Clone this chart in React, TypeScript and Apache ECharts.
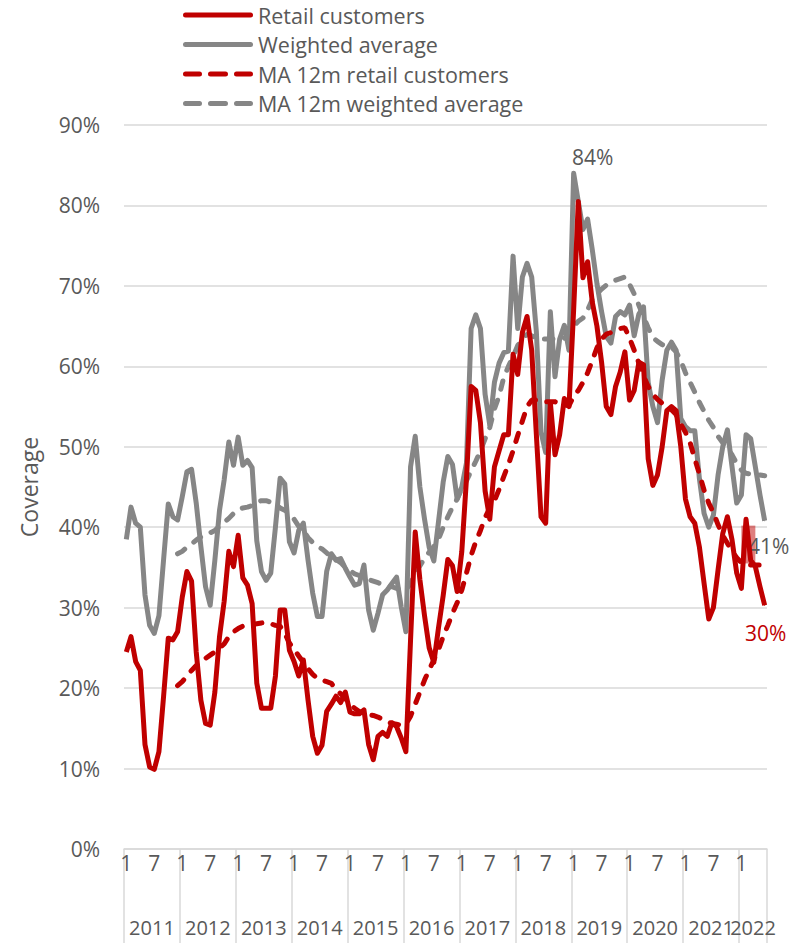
import React, { useEffect, useRef } from "react";
import * as echarts from "echarts";

// ---------- data ----------
const years = ["2011", "2012", "2013", "2014", "2015", "2016", "2017", "2018", "2019", "2020", "2021", "2022"];
const monthsPerYear = [12, 12, 12, 12, 12, 12, 12, 12, 12, 12, 12, 6];
const monthTickLabels = ["1", "7"]; // months shown on the axis

const seriesNames = [
  "Retail customers",
  "Weighted average",
  "MA 12m retail customers",
  "MA 12m weighted average",
];

// Coverage (%), monthly, Jan 2011 - Jun 2022
const retail = [
  24.5, 26.4, 23.3, 22.2, 13.0, 10.2, 9.9, 12.1, 19.0, 26.2, 26.0, 27.0,
  31.3, 34.5, 33.3, 24.5, 18.5, 15.6, 15.4, 19.5, 26.4, 30.8, 37.0, 35.1,
  39.0, 33.7, 32.8, 30.5, 20.6, 17.5, 17.5, 17.5, 21.5, 29.7, 29.7, 24.7,
  23.3, 21.5, 23.5, 18.5, 14.0, 11.9, 12.9, 17.1, 18.0, 19.0, 18.2, 19.5,
  17.0, 16.8, 16.8, 17.3, 13.0, 11.1, 14.0, 14.5, 14.0, 15.7, 15.2, 13.8,
  12.1, 26.0, 39.4, 33.5, 29.0, 25.0, 23.2, 27.5, 31.5, 36.0, 35.2, 32.0,
  37.0, 46.0, 57.5, 57.0, 53.0, 44.5, 41.0, 47.5, 49.5, 51.5, 51.5, 61.5,
  59.0, 64.2, 66.2, 62.0, 51.5, 41.3, 40.5, 55.5, 49.0, 51.5, 56.0, 55.0,
  67.0, 80.5, 71.0, 73.0, 68.0, 65.0, 60.5, 55.0, 54.0, 57.5, 59.3, 61.8,
  55.8, 57.0, 60.5, 60.2, 48.5, 45.2, 46.5, 50.0, 54.5, 55.0, 54.5, 50.0,
  43.5, 41.3, 40.5, 37.5, 33.0, 28.6, 30.0, 34.7, 39.2, 41.3, 38.4, 34.3,
  32.4, 41.0, 35.9, 35.1, 32.6, 30.3,
];

const weighted = [
  38.5, 42.5, 40.5, 40.0, 31.6, 27.8, 26.8, 29.0, 36.0, 42.9, 41.3, 40.9,
  43.8, 46.9, 47.2, 43.0, 37.6, 32.6, 30.3, 35.9, 42.1, 45.9, 50.6, 47.7,
  51.2, 47.7, 48.3, 47.4, 38.3, 34.5, 33.4, 34.3, 40.0, 46.1, 45.4, 38.2,
  36.8, 39.6, 40.5, 35.9, 31.8, 28.9, 28.9, 34.5, 36.7, 35.9, 36.1, 34.9,
  33.8, 32.8, 33.0, 35.3, 29.7, 27.2, 29.3, 31.6, 32.2, 33.0, 33.8, 30.1,
  27.0, 47.5, 51.3, 45.0, 41.0, 37.5, 35.8, 40.7, 45.6, 48.8, 47.8, 43.5,
  45.0, 48.0, 64.7, 66.4, 64.7, 56.5, 52.7, 58.0, 60.4, 61.7, 61.9, 73.7,
  64.7, 71.1, 72.8, 71.1, 64.3, 51.8, 49.3, 66.8, 58.7, 63.4, 65.1, 62.0,
  84.0, 80.5, 77.0, 78.3, 74.5, 70.3, 66.8, 63.7, 62.9, 66.2, 66.8, 66.4,
  67.6, 63.8, 66.5, 67.4, 58.0, 55.0, 53.0, 58.3, 62.0, 63.0, 62.0, 53.5,
  52.5, 52.0, 52.0, 46.0, 41.7, 40.0, 41.5, 46.5, 50.0, 52.1, 47.5, 43.0,
  44.0, 51.5, 51.0, 47.5, 44.0, 40.8,
];

// 12-month moving averages, starting Dec 2011
const maStartIndex = 11;
const maRetail = [
  20.3,
  20.8, 21.5, 22.2, 22.8, 23.3, 23.7, 24.1, 24.5, 25.0, 25.5, 26.4, 27.0,
  27.4, 27.7, 27.8, 27.9, 28.0, 28.1, 28.2, 28.0, 27.8, 27.7, 26.8, 25.6,
  24.8, 24.0, 23.2, 22.4, 21.7, 21.2, 21.0, 20.8, 20.6, 19.8, 19.3, 18.7,
  18.0, 17.5, 17.1, 16.8, 16.7, 16.6, 16.4, 16.1, 15.8, 15.6, 15.5, 15.4,
  15.5, 16.5, 18.0, 19.5, 21.0, 22.3, 23.5, 24.8, 26.4, 27.8, 29.3, 30.6,
  32.2, 34.3, 36.5, 38.2, 39.6, 41.2, 42.4, 43.3, 44.7, 46.3, 47.8, 49.5,
  51.4, 53.2, 55.0, 55.8, 55.8, 55.6, 55.6, 55.6, 55.6, 55.4, 55.2, 55.1,
  56.3, 57.0, 58.0, 59.2, 60.7, 62.3, 63.4, 64.0, 64.2, 64.5, 64.7, 64.8,
  63.5, 62.0, 60.4, 58.8, 57.5, 56.5, 55.9, 55.4, 55.0, 54.6, 54.0, 52.8,
  51.8, 50.5, 48.5, 46.6, 44.6, 43.0, 41.8, 40.3, 39.0, 38.0, 37.0, 36.2,
  35.6, 35.4, 35.3, 35.3, 35.3, 35.2,
];
const maWeighted = [
  36.7,
  37.0, 37.5, 37.9, 38.4, 38.8, 39.0, 39.3, 39.6, 40.1, 40.6, 41.1, 41.7,
  42.2, 42.4, 42.5, 42.7, 43.1, 43.3, 43.3, 43.1, 42.8, 42.4, 42.1, 41.8,
  41.0, 40.1, 39.6, 38.7, 38.1, 37.6, 37.3, 36.8, 36.4, 36.0, 35.6, 35.0,
  34.6, 34.2, 34.0, 33.7, 33.5, 33.3, 33.1, 32.9, 32.7, 32.6, 32.4, 32.2,
  32.2, 33.0, 34.3, 35.2, 36.1, 36.9, 37.6, 38.5, 40.0, 41.3, 42.5, 43.5,
  44.8, 45.8, 47.0, 48.2, 49.5, 51.0, 52.4, 54.7, 56.3, 58.6, 60.0, 61.2,
  62.6, 63.3, 64.0, 63.8, 63.5, 63.4, 63.4, 63.4, 63.4, 63.4, 63.5, 63.8,
  65.0, 65.6, 66.0, 67.0, 68.3, 69.0, 69.6, 70.1, 70.5, 70.7, 70.9, 71.1,
  70.2, 69.0, 67.6, 66.2, 64.8, 63.6, 63.1, 62.7, 62.4, 62.4, 61.8, 60.7,
  59.2, 58.0, 56.8, 55.5, 54.4, 53.3, 52.4, 51.3, 50.5, 49.8, 49.0, 47.9,
  47.1, 46.7, 46.6, 46.5, 46.5, 46.4,
];

const yTicks = [0, 10, 20, 30, 40, 50, 60, 70, 80, 90];

// points that carry a value label
const weightedLabelIdx = [96, 137];
const retailLabelIdx = [137];

// highlighted box near the end (category index range and value range)
const highlightBox = { from: 132, to: 135, top: 40.2, bottom: 35.5 };

// ---------- styling ----------
const RED = "#C00000";
const GRAY = "#868686";
const TEXT = "#595959";
const GRID = "#d9d9d9";
const FONT = "'Open Sans', 'Noto Sans', sans-serif";
const LINE_W = 5;

const solidIcon =
  "path://M2.5,0 H67.5 A2.5,2.5 0 0 1 67.5,5 H2.5 A2.5,2.5 0 0 1 2.5,0 Z";
const dashIcon =
  "path://M2.5,0 H16.5 A2.5,2.5 0 0 1 16.5,5 H2.5 A2.5,2.5 0 0 1 2.5,0 Z " +
  "M27.5,0 H42.5 A2.5,2.5 0 0 1 42.5,5 H27.5 A2.5,2.5 0 0 1 27.5,0 Z " +
  "M53.5,0 H67.5 A2.5,2.5 0 0 1 67.5,5 H53.5 A2.5,2.5 0 0 1 53.5,0 Z";

function buildCategories(): string[] {
  const out: string[] = [];
  years.forEach((y, yi) => {
    for (let m = 1; m <= monthsPerYear[yi]; m++) out.push(`${y}-${m}`);
  });
  return out;
}

export default function App() {
  const ref = useRef<HTMLDivElement>(null);

  useEffect(() => {
    if (!ref.current) return;
    const chart = echarts.init(ref.current, undefined, { renderer: "svg" });
    const categories = buildCategories();
    const total = categories.length;

    // year label positions (center of each year block, in month units)
    const yearCenters: Record<number, string> = {};
    let start = 0;
    years.forEach((y, yi) => {
      yearCenters[start + monthsPerYear[yi] / 2] = y;
      start += monthsPerYear[yi];
    });

    const pctLabel = (color: string, offset: number[], position: string) => ({
      show: true,
      position,
      offset,
      color,
      fontSize: 21,
      fontFamily: FONT,
      formatter: (p: any) => `${Math.round(p.value)}%`,
    });

    const withLabels = (arr: number[], idxs: number[], labelFor: (i: number) => any) =>
      arr.map((v, i) =>
        idxs.includes(i)
          ? { value: v, symbol: "circle", symbolSize: 1, label: labelFor(i) }
          : v
      );

    const weightedData = withLabels(weighted, weightedLabelIdx, (i) =>
      i === weightedLabelIdx[0]
        ? pctLabel(TEXT, [19, 0], "top")
        : pctLabel(TEXT, [4, 9], "bottom")
    );
    const retailData = withLabels(retail, retailLabelIdx, () =>
      pctLabel(RED, [1, 12], "bottom")
    );

    const maData = (arr: number[]) => arr.map((v, k) => [categories[k + maStartIndex], v]);

    const dashed = { type: [8.5, 11.5], cap: "round" as const };

    const option: any = {
      animation: false,
      backgroundColor: "#ffffff",
      textStyle: { fontFamily: FONT },
      grid: { left: 124, right: 24, top: 125, bottom: 94, containLabel: false },
      legend: {
        orient: "vertical",
        left: 183,
        top: 4,
        padding: 0,
        itemGap: 7.5,
        itemWidth: 70,
        itemHeight: 5,
        selectedMode: false,
        textStyle: { color: TEXT, fontSize: 21.5, fontFamily: FONT, lineHeight: 22 },
        data: [
          { name: seriesNames[0], icon: solidIcon },
          { name: seriesNames[1], icon: solidIcon },
          { name: seriesNames[2], icon: dashIcon },
          { name: seriesNames[3], icon: dashIcon },
        ],
      },
      xAxis: [
        {
          type: "category",
          data: categories,
          boundaryGap: true,
          axisLine: { show: true, lineStyle: { color: GRID, width: 1.5 } },
          axisTick: {
            show: true,
            interval: (i: number) => i % 12 === 0,
            length: 94,
            lineStyle: { color: GRID, width: 1.5 },
          },
          axisLabel: {
            interval: (i: number) => i % 6 === 0,
            formatter: (v: string, i: number) => monthTickLabels[(i % 12) / 6] ?? "",
            color: TEXT,
            fontSize: 21,
            fontFamily: FONT,
            margin: 3,
          },
        },
        {
          type: "value",
          min: 0,
          max: total,
          interval: 3,
          position: "bottom",
          axisLine: { show: false },
          axisTick: { show: false },
          splitLine: { show: false },
          axisLabel: {
            formatter: (v: number) => yearCenters[v] ?? "",
            color: TEXT,
            fontSize: 20,
            fontFamily: FONT,
            margin: 68,
          },
        },
      ],
      yAxis: {
        type: "value",
        min: yTicks[0],
        max: yTicks[yTicks.length - 1],
        interval: yTicks[1] - yTicks[0],
        axisLine: { show: false },
        axisTick: { show: false },
        splitLine: { lineStyle: { color: GRID, width: 1.5 } },
        axisLabel: {
          formatter: "{value}%",
          color: TEXT,
          fontSize: 21,
          fontFamily: FONT,
          margin: 24,
        },
        name: "Coverage",
        nameLocation: "middle",
        nameGap: 84,
        nameTextStyle: { color: TEXT, fontSize: 23, fontFamily: FONT },
      },
      series: [
        {
          name: seriesNames[1],
          type: "line",
          data: weightedData,
          color: GRAY,
          symbol: "none",
          showAllSymbol: true,
          lineStyle: { width: LINE_W, color: GRAY, join: "round" },
          z: 2,
        },
        {
          name: seriesNames[3],
          type: "line",
          data: maData(maWeighted),
          color: GRAY,
          symbol: "none",
          lineStyle: { width: LINE_W, color: GRAY, ...dashed },
          z: 3,
        },
        {
          name: seriesNames[2],
          type: "line",
          data: maData(maRetail),
          color: RED,
          symbol: "none",
          lineStyle: { width: LINE_W, color: RED, ...dashed },
          z: 4,
        },
        {
          name: seriesNames[0],
          type: "line",
          data: retailData,
          color: RED,
          symbol: "none",
          showAllSymbol: true,
          lineStyle: { width: LINE_W, color: RED, join: "round" },
          z: 5,
          markArea: {
            silent: true,
            itemStyle: { color: "rgba(192,0,0,0.5)" },
            data: [
              [
                { xAxis: categories[highlightBox.from], yAxis: highlightBox.top },
                { xAxis: categories[highlightBox.to], yAxis: highlightBox.bottom },
              ],
            ],
          },
        },
      ],
    };

    chart.setOption(option);
    return () => chart.dispose();
  }, []);

  return (
    <div
      ref={ref}
      style={{ position: "fixed", left: 0, top: 0, width: 791, height: 943, background: "#fff" }}
    />
  );
}
